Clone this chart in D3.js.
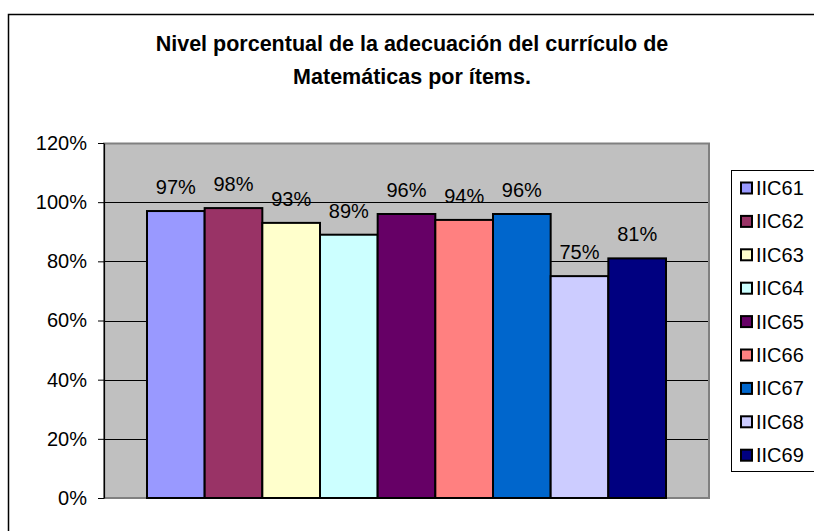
<!DOCTYPE html>
<html>
<head>
<meta charset="utf-8">
<script src="https://cdn.jsdelivr.net/npm/d3@7"></script>
<style>
  html, body { margin: 0; padding: 0; background: #fff; }
  svg { display: block; font-family: "Liberation Sans", Arial, sans-serif; }
</style>
</head>
<body>
<svg id="chart" width="814" height="531"></svg>
<script>
const titleLines = ["Nivel porcentual de la adecuación del currículo de", "Matemáticas por ítems."];
const categories = ["IIC61", "IIC62", "IIC63", "IIC64", "IIC65", "IIC66", "IIC67", "IIC68", "IIC69"];
const values = [0.97, 0.98, 0.93, 0.89, 0.96, 0.94, 0.96, 0.75, 0.81];
const colors = ["#9999FF", "#993366", "#FFFFCC", "#CCFFFF", "#660066", "#FF8080", "#0066CC", "#CCCCFF", "#000080"];
const yTicks = [0, 0.2, 0.4, 0.6, 0.8, 1.0, 1.2];

const svg = d3.select("#chart");

// outer chart frame (clipped by image on right/bottom)
svg.append("rect").attr("x", 8.5).attr("y", 14.5).attr("width", 830).attr("height", 540)
  .attr("fill", "#fff").attr("stroke", "#000").attr("stroke-width", 1.5);

// title
svg.append("text").attr("x", 412).attr("y", 51).attr("text-anchor", "middle")
  .attr("font-size", 21.5).attr("font-weight", "bold").selectAll("tspan")
  .data(titleLines).join("tspan")
  .attr("x", 412).attr("dy", (d, i) => i === 0 ? 0 : 33).text(d => d);

const plot = { left: 104, right: 709, top: 143, bottom: 498 };

const y = d3.scaleLinear().domain([0, 1.2]).range([plot.bottom, plot.top]);
const x = d3.scaleBand().domain(categories).range([147, 666]).padding(0);

// plot background
svg.append("rect").attr("x", plot.left).attr("y", plot.top)
  .attr("width", plot.right - plot.left).attr("height", plot.bottom - plot.top)
  .attr("fill", "#C0C0C0");

// gridlines
svg.append("g").selectAll("line").data(yTicks.filter(d => d > 0)).join("line")
  .attr("x1", plot.left).attr("x2", plot.right)
  .attr("y1", d => Math.round(y(d)) + 0.5).attr("y2", d => Math.round(y(d)) + 0.5)
  .attr("stroke", "#000").attr("stroke-width", 1);

// plot border (gray right and bottom)
svg.append("path")
  .attr("d", `M${plot.left},${plot.top + 0.5} H${plot.right} V${plot.bottom} H${plot.left} Z`)
  .attr("fill", "none").attr("stroke", "#808080").attr("stroke-width", 2);

// bars
svg.append("g").selectAll("rect").data(categories).join("rect")
  .attr("x", d => x(d)).attr("width", x.bandwidth())
  .attr("y", (d, i) => y(values[i])).attr("height", (d, i) => y(0) - y(values[i]))
  .attr("fill", (d, i) => colors[i]).attr("stroke", "#000").attr("stroke-width", 2);

// data labels
svg.append("g").selectAll("text").data(categories).join("text")
  .attr("x", d => x(d) + x.bandwidth() / 2)
  .attr("y", (d, i) => y(values[i]) - 17)
  .attr("text-anchor", "middle").attr("font-size", 20).attr("fill", "#000")
  .text((d, i) => Math.round(values[i] * 100) + "%");

// y axis
const yAxis = d3.axisLeft(y).tickValues(yTicks).tickFormat(d3.format(".0%"))
  .tickSize(6).tickSizeOuter(0).tickPadding(11);
const ag = svg.append("g").attr("transform", `translate(${plot.left},0)`).call(yAxis);
ag.select(".domain").attr("stroke", "#000").attr("stroke-width", 1.2);
ag.selectAll(".tick line").attr("stroke", "#000");
ag.selectAll(".tick text").attr("font-size", 20).attr("fill", "#000")
  .attr("font-family", "'Liberation Sans', Arial, sans-serif");

// legend
const lg = svg.append("g");
lg.append("rect").attr("x", 731.5).attr("y", 170.5).attr("width", 120).attr("height", 301)
  .attr("fill", "#fff").attr("stroke", "#000").attr("stroke-width", 1);
const item = lg.selectAll("g.item").data(categories).join("g").attr("class", "item")
  .attr("transform", (d, i) => `translate(0,${188 + i * 33.4})`);
item.append("rect").attr("x", 741).attr("y", -5.5).attr("width", 11).attr("height", 11)
  .attr("fill", (d, i) => colors[i]).attr("stroke", "#000").attr("stroke-width", 2);
item.append("text").attr("x", 756).attr("y", 0).attr("dy", "0.35em")
  .attr("font-size", 20).attr("fill", "#000").text(d => d);
</script>
</body>
</html>
